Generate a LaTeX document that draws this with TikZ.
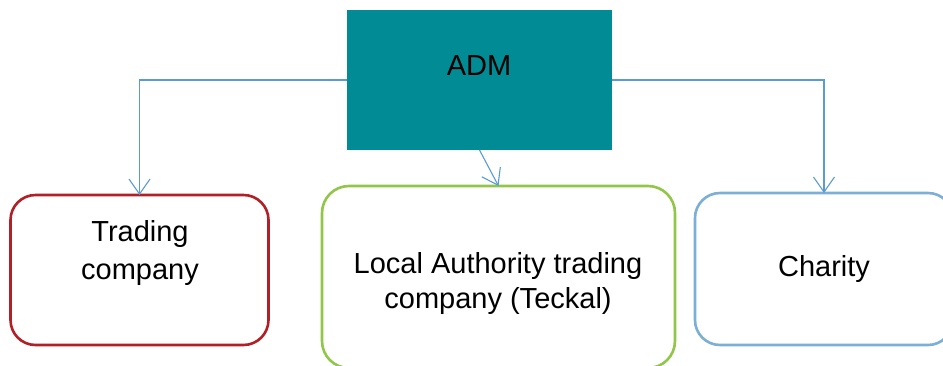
\documentclass[tikz,border=0pt]{standalone}
\usepackage{fontspec}
\setmainfont{Liberation Sans}
\usetikzlibrary{arrows.meta}
\definecolor{admteal}{RGB}{0,139,149}
\definecolor{tradered}{RGB}{176,32,38}
\definecolor{lagreen}{RGB}{146,198,72}
\definecolor{charblue}{RGB}{124,175,214}
\definecolor{linkblue}{RGB}{91,155,213}
\tikzset{
  box/.style={rectangle, rounded corners=25pt, line width=2.6pt, fill=white, inner sep=0pt, outer sep=0pt},
  lbl/.style={inner sep=0pt, outer sep=0pt, align=center, font=\fontsize{29}{38}\selectfont},
  link/.style={draw=linkblue, line width=1.1pt, -{Straight Barb[length=15pt,width=21pt,line width=1.1pt]}}
}
\begin{document}
\begin{tikzpicture}[x=1pt,y=-1pt]
\useasboundingbox (0,0) rectangle (943,365);
\node[rectangle, fill=admteal, minimum width=265pt, minimum height=140pt, inner sep=0pt, outer sep=0pt] (adm) at (479.5,80) {};
\node[lbl, anchor=base] (admt) at (479,75) {ADM};
\node[box, draw=tradered, minimum width=258pt, minimum height=150pt] (trade) at (139.5,270) {};
\node[lbl, anchor=north] (tradet) at (140,220) {Trading\\company};
\node[box, draw=lagreen, rounded corners=27pt, minimum width=353pt, minimum height=182pt] (local) at (498.5,277) {};
\node[lbl, anchor=north, font=\fontsize{29}{35}\selectfont] (localt) at (498,252) {Local Authority trading\\company (Teckal)};
\node[box, draw=charblue, minimum width=258pt, minimum height=152pt] (charity) at (824,269) {};
\node[lbl, anchor=base] (charityt) at (824,276) {Charity};
\draw[link] (adm.west) -| (trade.north);
\draw[link] (adm.east) -| (charity.north);
\draw[link] (adm.south) -- (local.north);
\end{tikzpicture}
\end{document}
